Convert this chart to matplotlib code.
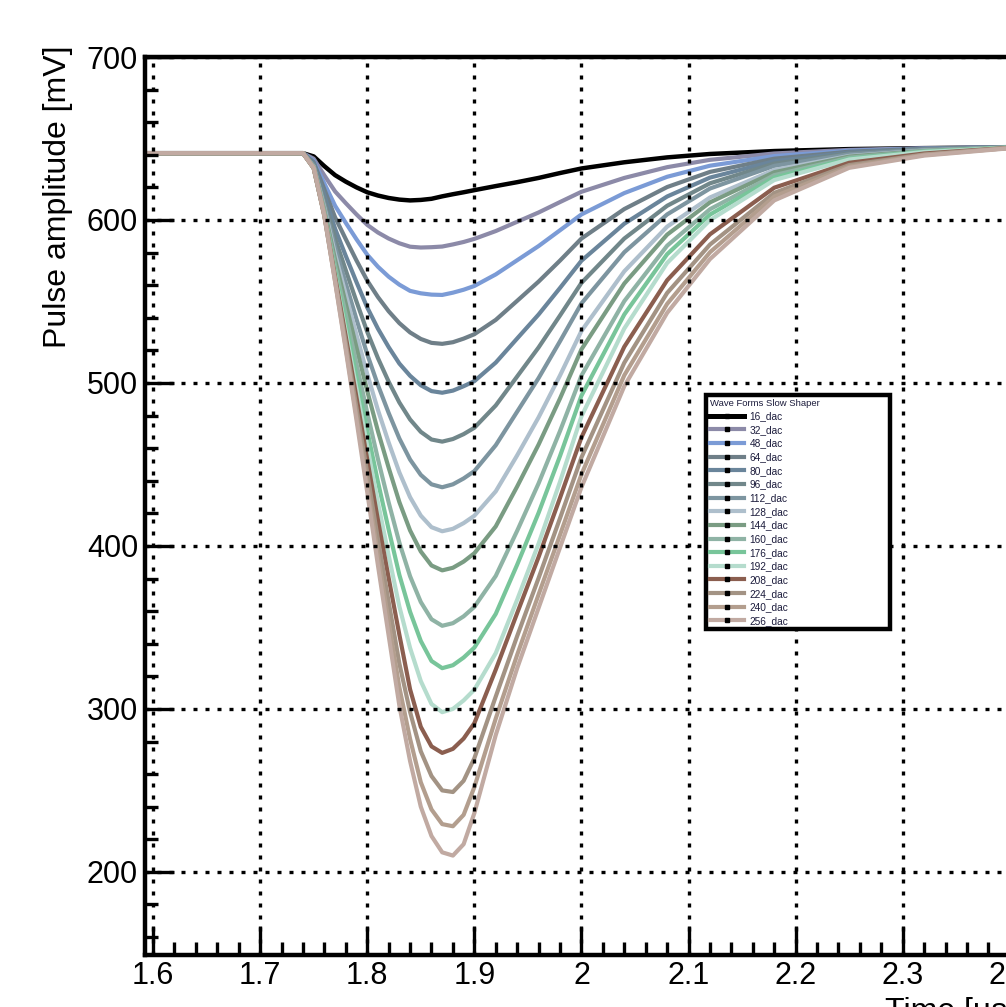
import matplotlib
matplotlib.use("Agg")
import matplotlib.pyplot as plt
from matplotlib.lines import Line2D
from matplotlib.ticker import MultipleLocator, FuncFormatter

plt.rcParams['font.family'] = ['Liberation Sans', 'DejaVu Sans']

# ---------------- data ----------------
time_us = [1.59, 1.74, 1.75, 1.76, 1.77, 1.78, 1.79, 1.80, 1.81, 1.82, 1.83, 1.84,
           1.85, 1.86, 1.87, 1.88, 1.89, 1.90, 1.92, 1.94, 1.96, 1.98, 2.00,
           2.04, 2.08, 2.12, 2.18, 2.25, 2.32, 2.40]

v16 = [641, 641, 639, 633, 627.5, 623.5, 620, 617, 615, 613.5, 612.5, 612,
       612.3, 613, 614.5, 615.8, 617, 618.3, 620.8, 623.2, 625.8, 628.8, 631.6,
       635.4, 638.4, 640.5, 642.3, 643.5, 644.1, 644.6]
v32 = [641, 641, 637.6, 627.3, 617.5, 610.3, 603.4, 597.0, 592.3, 588.6, 585.7, 583.6,
       583.1, 583.3, 583.7, 585.0, 586.5, 588.4, 593.2, 598.9, 604.6, 611.0, 617.3,
       625.8, 632.4, 636.9, 640.8, 643.0, 644.0, 644.8]
v48 = [641, 641, 636.4, 622.4, 608.7, 598.2, 588.1, 578.7, 571.3, 565.2, 560.3, 556.5,
       555.0, 554.2, 554.0, 555.4, 557.2, 559.5, 566.6, 575.3, 584.0, 593.7, 603.4,
       616.5, 626.5, 633.3, 639.2, 642.5, 643.8, 644.7]
v64 = [641, 641, 635.5, 618.7, 601.6, 588.2, 575.1, 562.8, 552.7, 544.0, 536.7, 531.0,
       527.0, 524.6, 524.0, 525.0, 527.2, 529.9, 538.7, 550.4, 562.2, 575.1, 588.6,
       606.7, 620.2, 629.5, 637.6, 641.9, 643.7, 644.8]
v80 = [641, 641, 634.5, 615.0, 594.6, 577.9, 561.8, 546.3, 533.3, 522.0, 511.9, 504.4,
       498.6, 495.0, 494.0, 495.3, 498.0, 501.1, 512.5, 527.3, 542.0, 558.3, 575.0,
       597.7, 614.4, 626.0, 636.1, 641.3, 643.5, 644.7]
v96 = [641, 641, 633.9, 612.0, 588.7, 569.1, 549.9, 531.4, 515.2, 500.8, 488.0, 477.6,
       470.0, 465.3, 464.0, 465.6, 468.6, 472.5, 486.2, 504.0, 521.8, 541.4, 561.4,
       588.6, 608.7, 622.5, 634.6, 640.8, 643.3, 644.6]
v112 = [641, 641, 633.2, 609.5, 583.3, 561.1, 539.0, 517.6, 498.7, 481.6, 465.9, 453.0,
        443.6, 437.8, 436.0, 437.8, 441.4, 445.9, 461.8, 482.4, 503.0, 525.6, 548.8,
        580.2, 603.4, 619.3, 633.2, 640.3, 643.1, 644.6]
v128 = [641, 641, 632.8, 607.4, 579.0, 554.2, 529.5, 505.5, 483.4, 463.5, 445.1, 429.9,
        418.6, 411.5, 409.0, 410.5, 414.0, 418.5, 433.5, 455.6, 478.9, 504.6, 531.9,
        568.5, 595.9, 613.8, 630.7, 639.3, 642.6, 644.5]
v144 = [641, 641, 632.5, 606.0, 575.6, 548.6, 521.6, 495.1, 470.4, 448.0, 426.9, 409.5,
        396.6, 388.0, 385.0, 386.6, 390.4, 395.5, 412.0, 436.5, 462.2, 490.5, 520.6,
        561.0, 591.0, 610.8, 629.3, 638.9, 642.4, 644.5]
v160 = [641, 641, 632.3, 604.9, 571.9, 541.9, 511.6, 481.8, 453.3, 426.7, 402.0, 381.4,
        365.6, 355.0, 351.0, 352.6, 356.8, 362.6, 381.6, 409.3, 438.4, 470.5, 504.5,
        550.2, 584.2, 606.6, 627.5, 638.2, 642.2, 644.4]
v176 = [641, 641, 631.8, 603.2, 568.6, 536.2, 503.2, 470.8, 439.3, 410.1, 382.2, 359.6,
        341.7, 329.4, 325.0, 326.8, 331.5, 337.6, 358.3, 388.5, 420.3, 455.2, 492.2,
        542.0, 579.0, 603.3, 626.0, 637.6, 642.0, 644.4]
v192 = [641, 641, 631.7, 602.7, 566.2, 531.4, 496.2, 461.1, 426.6, 394.2, 362.8, 337.4,
        317.1, 303.0, 298.0, 300.0, 305.2, 311.8, 334.2, 367.0, 401.4, 439.4, 479.5,
        533.4, 573.6, 599.9, 624.5, 637.1, 641.7, 644.3]
v208 = [641, 641, 631.8, 602.9, 565.2, 528.2, 490.9, 453.1, 415.8, 380.3, 345.5, 312.0,
        289.0, 277.0, 273.0, 275.5, 281.8, 291.2, 324.1, 358.8, 393.2, 429.5, 466.6,
        522.2, 563.0, 591.2, 619.8, 635.1, 640.8, 644.3]
v224 = [641, 641, 631.9, 602.3, 563.6, 524.5, 484.6, 444.7, 404.0, 365.7, 327.8, 298.1,
        274.0, 258.8, 250.0, 249.0, 255.9, 269.7, 307.6, 344.7, 380.3, 417.0, 454.3,
        512.4, 555.2, 584.9, 616.6, 633.7, 640.2, 644.2]
v240 = [641, 641, 631.8, 602.3, 562.4, 521.6, 479.6, 437.6, 394.7, 353.5, 313.2, 281.6,
        255.0, 238.3, 229.3, 228.0, 235.0, 252.0, 294.1, 333.2, 370.2, 406.8, 443.9,
        504.7, 548.5, 580.2, 614.4, 632.8, 639.9, 644.2]
v256 = [641, 641, 632, 603, 562, 520, 477, 433, 388, 345, 302, 268,
        240, 222, 212, 210, 217, 236, 284, 325, 362, 399, 436,
        498, 543, 576, 612, 632, 639.5, 644]

labels = ["16_dac", "32_dac", "48_dac", "64_dac", "80_dac", "96_dac", "112_dac",
          "128_dac", "144_dac", "160_dac", "176_dac", "192_dac", "208_dac",
          "224_dac", "240_dac", "256_dac"]
series = [v16, v32, v48, v64, v80, v96, v112, v128, v144, v160, v176, v192,
          v208, v224, v240, v256]
colors = ["#000000", "#8c8aa8", "#7b9bd6", "#6f7f88", "#6a859b", "#71878a",
          "#7d95a0", "#aebfcc", "#7a9c83", "#8fb3a5", "#78c59a", "#b5dccd",
          "#8b5e4f", "#a39384", "#b39e8e", "#c1aaa2"]

legend_title = "Wave Forms Slow Shaper"
x_title = "Time [\u00b5s]"
y_title = "Pulse amplitude [mV]"

# ---------------- figure ----------------
W, H = 1006, 1007
fig = plt.figure(figsize=(W / 100, H / 100), dpi=100)
ax = fig.add_axes([145 / W, 52 / H, 918.4 / W, 898 / H])

for vals, col in zip(series, colors):
    ax.plot(time_us, vals, color=col, lw=3.2 if col == "#000000" else 3.0,
            solid_capstyle='round', solid_joinstyle='round')

ax.set_xlim(1.5925, 2.45)
ax.set_ylim(149, 700)

ax.xaxis.set_major_locator(MultipleLocator(0.1))
ax.xaxis.set_minor_locator(MultipleLocator(0.02))
ax.yaxis.set_major_locator(MultipleLocator(100))
ax.yaxis.set_minor_locator(MultipleLocator(20))
ax.xaxis.set_major_formatter(FuncFormatter(lambda v, p: f"{v:g}"))
ax.yaxis.set_major_formatter(FuncFormatter(lambda v, p: f"{v:g}"))

ax.tick_params(which='major', direction='in', length=21, width=2.4,
               labelsize=22, top=False, right=False)
ax.tick_params(which='minor', direction='in', length=9.5, width=2.4,
               top=False, right=False)
ax.tick_params(axis='x', which='major', pad=4)
ax.tick_params(axis='y', which='major', pad=5)

for s in ['left', 'bottom', 'top']:
    ax.spines[s].set_linewidth(3.2)
ax.spines['right'].set_visible(False)

ax.grid(True, which='major', color='black', linestyle=(0, (1.2, 2.4)),
        linewidth=2.4)
ax.set_axisbelow(False)

fig.text(58 / W, 1 - 45 / H, y_title, rotation=90, ha='center', va='top',
         fontsize=23)
fig.text(885 / W, 1 - 997 / H, x_title, ha='left', va='top', fontsize=23)

handles = []
for lab, col in zip(labels, colors):
    handles.append(Line2D([], [], color=col, lw=3.6 if col == "#000000" else 3.0,
                          marker='s', markersize=2.6, markerfacecolor='black',
                          markeredgecolor='black'))

leg = fig.legend(handles=handles, labels=labels, loc='upper left',
                 bbox_to_anchor=(706 / W, 1 - 632 / H, 184 / W, 237 / H),
                 mode='expand', borderaxespad=0, frameon=True, fancybox=False,
                 fontsize=7.3, title=legend_title, title_fontsize=6.8,
                 alignment='left', handlelength=3.4, handletextpad=0.55,
                 labelspacing=0.36, borderpad=0.35, numpoints=1,
                 labelcolor='#1c1c3c', framealpha=1)
leg.get_frame().set_edgecolor('black')
leg.get_frame().set_linewidth(3.2)
leg.get_title().set_color('#1c1c3c')

fig.savefig("out.png", dpi=100)
